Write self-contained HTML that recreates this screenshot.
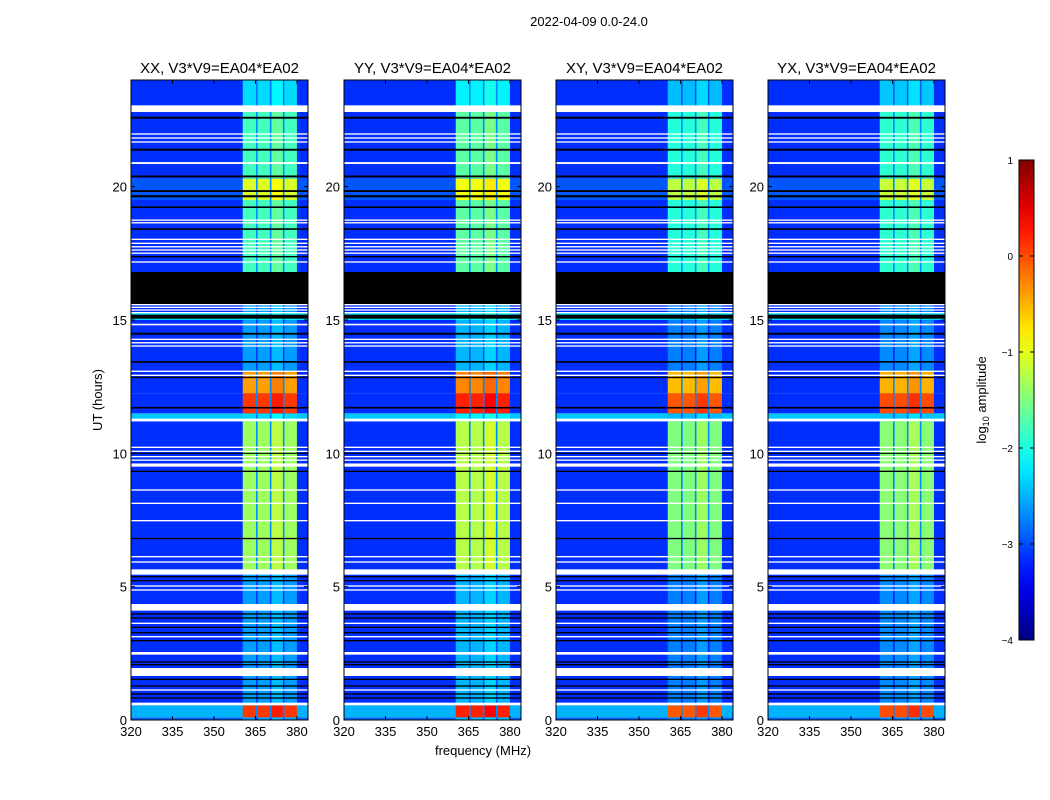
<!DOCTYPE html>
<html><head><meta charset="utf-8"><style>
html,body{margin:0;padding:0;background:#fff;}
svg{display:block;font-family:"Liberation Sans",sans-serif;}
</style></head><body>
<svg id="fig" width="1050" height="800" viewBox="0 0 1050 800">
<text x="589" y="26" font-size="13" text-anchor="middle">2022-04-09 0.0-24.0</text>
<text x="483" y="755" font-size="13" text-anchor="middle">frequency (MHz)</text>
<text transform="translate(102,400) rotate(-90)" font-size="13" text-anchor="middle">UT (hours)</text>
<text transform="translate(986,400) rotate(-90)" font-size="13" text-anchor="middle">log<tspan font-size="9" dy="3">10</tspan><tspan dy="-3"> amplitude</tspan></text>
</svg>
<script>
// ---- data ----
const panelTitles = ["XX, V3*V9=EA04*EA02","YY, V3*V9=EA04*EA02","XY, V3*V9=EA04*EA02","YX, V3*V9=EA04*EA02"];
const panelOffsets = [0, 0.12, -0.15, -0.1];
const xTicks = [320,335,350,365,380];
const yTicks = [0,5,10,15,20];
const cbTicks = [1,0,-1,-2,-3,-4];
const subbands = [[360.4,365.5],[365.5,370.5],[370.5,375.2],[375.2,380]];
// [startHr, endHr, bandLevel, backgroundLevel]
const timeSegs = [
 [0,0.1,-2.6,-2.9],[0.1,0.55,0.1,-2.5],[0.55,5.5,-2.6,-3.15],[5.5,11.2,-1.35,-3.15],
 [11.2,11.5,-2.3,-2.4],[11.5,12.25,0.1,-3.15],[12.25,13.1,-0.4,-3.15],[13.1,15.0,-2.6,-3.15],
 [15.0,15.3,-2.2,-2.3],[15.3,16.8,-2.6,-3.15],[16.8,19.5,-1.8,-3.15],[19.5,20.3,-1.05,-2.95],
 [20.3,23.0,-1.8,-3.15],[23.0,24,-2.3,-3.15]
];
const flags = [
 [22.8,23.05,"w"],[22.55,22.62,"k"],[21.95,22.0,"w"],[21.8,21.85,"w"],[21.65,21.7,"w"],
 [21.35,21.42,"k"],[20.85,20.92,"w"],[20.35,20.42,"k"],[19.8,19.87,"k"],[19.6,19.68,"k"],
 [19.2,19.26,"k"],[18.72,18.77,"w"],[18.62,18.67,"w"],[18.38,18.44,"k"],[18.0,18.05,"w"],
 [17.85,17.9,"w"],[17.72,17.77,"w"],[17.6,17.65,"w"],[17.48,17.53,"w"],[17.35,17.4,"k"],
 [17.15,17.2,"w"],[15.6,16.8,"k"],[15.55,15.6,"w"],[15.45,15.5,"w"],[15.35,15.4,"w"],
 [15.25,15.3,"w"],[15.05,15.2,"k"],[14.8,14.86,"w"],[14.45,14.52,"k"],[14.25,14.3,"w"],
 [14.12,14.17,"w"],[14.0,14.05,"w"],[13.4,13.46,"k"],[13.05,13.1,"w"],[12.9,12.95,"w"],
 [12.82,12.87,"k"],[11.68,11.74,"k"],[11.2,11.3,"w"],[10.2,10.25,"w"],[10.05,10.1,"w"],
 [9.98,10.02,"k"],[9.85,9.9,"w"],[9.72,9.77,"w"],[9.5,9.62,"w"],[9.3,9.35,"k"],
 [8.6,8.65,"w"],[8.1,8.15,"w"],[7.45,7.5,"w"],[6.78,6.83,"k"],[6.1,6.15,"w"],[5.9,5.95,"w"],
 [5.45,5.65,"w"],[5.35,5.4,"k"],[5.2,5.25,"k"],[5.0,5.05,"w"],[4.85,4.9,"w"],[4.1,4.35,"w"],
 [3.95,4.0,"k"],[3.8,3.85,"k"],[3.6,3.65,"w"],[3.45,3.5,"k"],[3.25,3.3,"k"],[3.1,3.15,"w"],
 [2.95,3.0,"k"],[2.45,2.55,"w"],[2.15,2.2,"k"],[2.05,2.1,"k"],[1.65,1.95,"w"],[1.5,1.55,"k"],
 [1.25,1.3,"k"],[1.1,1.15,"w"],[0.95,1.0,"k"],[0.8,0.85,"k"],[0.55,0.65,"w"]
];
// ---- layout ----
const NS="http://www.w3.org/2000/svg";
const svg=document.getElementById('fig');
const lefts=[131,344,556,768], W=177, TOP=80, H=640;
const fMin=320,fMax=384,tMin=0,tMax=24,vMin=-4,vMax=1;
function jet(v){
 let t=Math.max(0,Math.min(1,(v-vMin)/(vMax-vMin)));
 const c=x=>Math.round(255*Math.max(0,Math.min(1,x)));
 const r=c(1.5-Math.abs(4*t-3)),g=c(1.5-Math.abs(4*t-2)),b=c(1.5-Math.abs(4*t-1));
 return `rgb(${r},${g},${b})`;
}
function mk(tag,attrs,parent){const e=document.createElementNS(NS,tag);for(const k in attrs)e.setAttribute(k,attrs[k]);(parent||svg).appendChild(e);return e;}
lefts.forEach((L,p)=>{
 const xs=f=>L+(f-fMin)/(fMax-fMin)*W;
 const ys=t=>TOP+H-(t-tMin)/(tMax-tMin)*H;
 const g=mk('g',{});
 
 
 timeSegs.forEach(s=>{
  const y0=ys(s[1]),y1=ys(s[0]);
  const bg=mk('rect',{x:L,y:y0,width:W,height:y1-y0,fill:jet(s[3])},g);
  
  
  subbands.forEach((sb,i)=>{
   const lv=s[2]+panelOffsets[p]+(i===2?0.15:0);
   const r=mk('rect',{x:xs(sb[0]),y:y0,width:xs(sb[1])-xs(sb[0]),height:y1-y0,fill:jet(lv)},g);
   
   
  });
  subbands.slice(1).forEach(sb=>{
   const d=mk('rect',{x:xs(sb[0])-0.8,y:y0,width:1.6,height:y1-y0,fill:jet(Math.min(s[2]+panelOffsets[p],-2.2)-0.5)},g);
   
   
  });
 });
 flags.forEach(f=>{
  const y0=ys(f[1]),y1=ys(f[0]);
  const r=mk('rect',{x:L,y:y0,width:W,height:Math.max(1,y1-y0),fill:f[2]==='w'?'#fff':'#000'},g);
  
  
 });
 const fr=mk('rect',{x:L,y:TOP,width:W,height:H,fill:'none',stroke:'#000','stroke-width':1},g);
 
 
 xTicks.forEach(v=>{
  const x=xs(v);
  mk('line',{x1:x,x2:x,y1:TOP+H,y2:TOP+H-4,stroke:'#000'},g);
  mk('line',{x1:x,x2:x,y1:TOP,y2:TOP+4,stroke:'#000'},g);
  const t=mk('text',{x:x,y:TOP+H+16,'font-size':13,'text-anchor':'middle'},g);
  t.textContent=v;
  
  
 });
 yTicks.forEach(v=>{
  const y=ys(v);
  mk('line',{x1:L,x2:L+4,y1:y,y2:y,stroke:'#000'},g);
  mk('line',{x1:L+W,x2:L+W-4,y1:y,y2:y,stroke:'#000'},g);
  const t=mk('text',{x:L-4,y:y+5,'font-size':13,'text-anchor':'end'},g);
  t.textContent=v;
  
  
 });
 const tt=mk('text',{x:L+W/2,y:TOP-7,'font-size':15,'text-anchor':'middle'},g);
 tt.textContent=panelTitles[p];
 
 
});
// colorbar
const cbX=1019,cbW=15,cbT=160,cbH=480;
const cb=mk('g',{});


const defs=mk('defs',{});
const grad=mk('linearGradient',{id:'jetg',x1:0,y1:1,x2:0,y2:0},defs);
for(let i=0;i<=20;i++){const v=vMin+(vMax-vMin)*i/20;mk('stop',{offset:i/20,'stop-color':jet(v)},grad);}
mk('rect',{x:cbX,y:cbT,width:cbW,height:cbH,fill:'url(#jetg)',stroke:'#000'},cb);
cbTicks.forEach(v=>{
 const y=cbT+cbH-(v-vMin)/(vMax-vMin)*cbH;
 mk('line',{x1:cbX+cbW,x2:cbX+cbW-4,y1:y,y2:y,stroke:'#000'},cb);
 mk('line',{x1:cbX,x2:cbX+4,y1:y,y2:y,stroke:'#000'},cb);
 const t=mk('text',{x:cbX-6,y:y+4,'font-size':10,'text-anchor':'end'},cb);
 t.textContent=v<0?'\u2212'+(-v):v;
 
 
});
</script>
</body></html>
